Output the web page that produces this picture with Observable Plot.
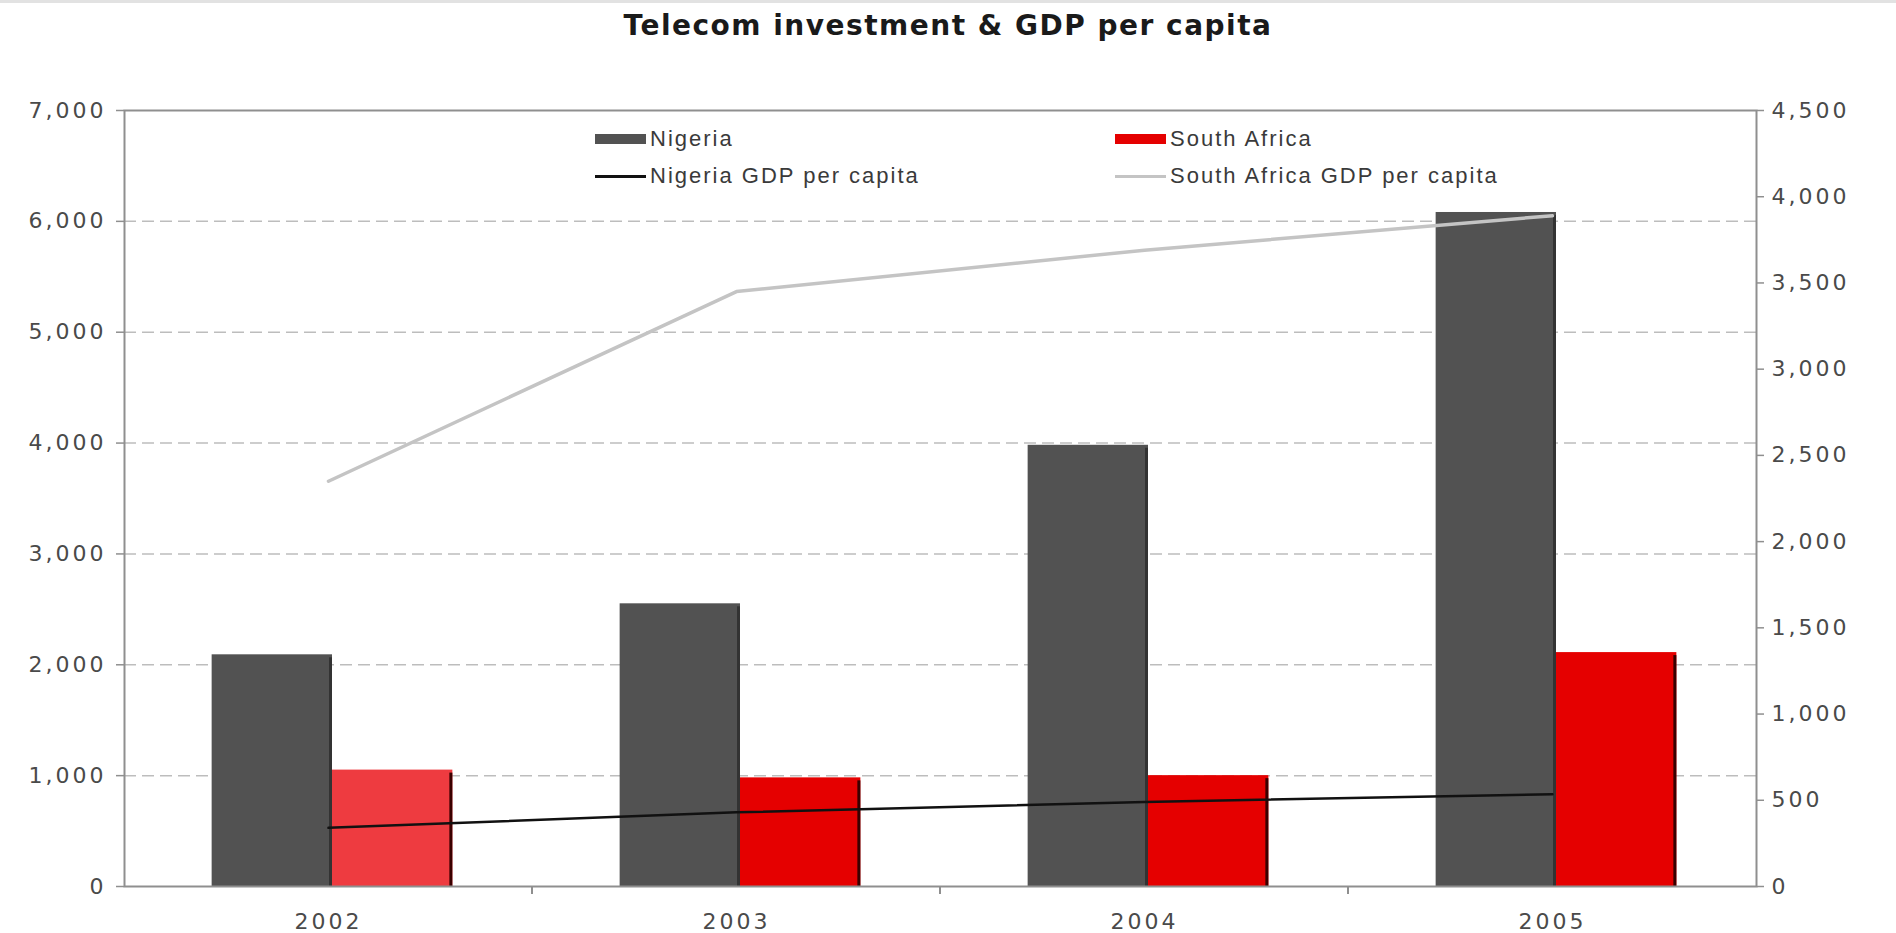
<!DOCTYPE html>
<html><head><meta charset="utf-8">
<script src="https://cdn.jsdelivr.net/npm/d3@7"></script>
<script src="https://cdn.jsdelivr.net/npm/@observablehq/plot@0.6"></script>
<style>
body{margin:0;background:#fff;font-family:"DejaVu Sans",sans-serif;}
#wrap{position:relative;width:1896px;height:933px;overflow:hidden;background:#fff;}
#title{box-sizing:border-box;height:50px;border-top:3px solid #e2e2e2;text-align:center;font-family:"DejaVu Sans";font-weight:bold;font-size:28px;letter-spacing:1.5px;line-height:46px;color:#1a1a1a;}
.leg{position:absolute;height:30px;display:flex;align-items:center;font-family:"Liberation Sans";font-size:22px;letter-spacing:2px;color:#3a3a3a;white-space:nowrap;}
.sw{display:inline-block;width:51px;margin-right:4px;}
#chart svg text{letter-spacing:3px;}
</style></head><body>
<div id="wrap">
<div id="title">Telecom investment &amp; GDP per capita</div>
<div id="chart"></div>
</div>
<script>
const years = ["2002", "2003", "2004", "2005"];
const nigeriaInvestment = [2090, 2550, 3980, 6080];
const southAfricaInvestment = [1050, 980, 1000, 2110];
const nigeriaGdp = [340, 430, 490, 535];
const southAfricaGdp = [2350, 3450, 3690, 3890];
const leftTicks = [0, 1000, 2000, 3000, 4000, 5000, 6000, 7000];
const rightTicks = [0, 500, 1000, 1500, 2000, 2500, 3000, 3500, 4000, 4500];
const seriesNames = ["Nigeria", "South Africa", "Nigeria GDP per capita", "South Africa GDP per capita"];

const leftMax = 7000, rightMax = 4500, k = leftMax / rightMax;
const W = 1896, H = 883, ML = 124, MR = 140, MT = 60, MB = 47;
const bw = (W - ML - MR) / years.length;
const barW = bw * 0.295;
const shift = 4;
const fmt = d3.format(",");

const nig = years.map((year, i) => ({year, value: nigeriaInvestment[i]}));
const sa = years.map((year, i) => ({year, value: southAfricaInvestment[i]}));
const nigG = years.map((year, i) => ({year, value: nigeriaGdp[i]}));
const saG = years.map((year, i) => ({year, value: southAfricaGdp[i]}));

const colNig = "#525252", colSA = "#e50000", colSA02 = "#ee3b40", colNigG = "#111111", colSAG = "#c4c4c4";

const chart = Plot.plot({
  width: W, height: H,
  marginLeft: ML, marginRight: MR, marginTop: MT, marginBottom: MB,
  style: {fontFamily: "DejaVu Sans", background: "#fff"},
  x: {type: "band", domain: years, padding: 0, axis: null, label: null},
  y: {domain: [0, leftMax], axis: null, label: null},
  marks: [
    Plot.ruleY(leftTicks.filter(d => d > 0 && d < leftMax), {stroke: "#bdbdbd", strokeWidth: 1.5, strokeDasharray: "12,6"}),
    Plot.barY(nig, {x: "year", y: "value", fill: colNig, insetLeft: bw / 2 - barW + shift, insetRight: bw / 2 - shift}),
    Plot.barY(nig, {x: "year", y: "value", fill: "#333", insetLeft: bw / 2 - 3 + shift, insetRight: bw / 2 - shift, insetTop: 3}),
    Plot.barY(sa, {x: "year", y: "value", fill: d => d.year === years[0] ? colSA02 : colSA, insetLeft: bw / 2 + shift, insetRight: bw / 2 - barW - shift}),
    Plot.barY(sa, {x: "year", y: "value", fill: "#3a0000", insetLeft: bw / 2 + barW - 3 + shift, insetRight: bw / 2 - barW - shift, insetTop: 3}),
    Plot.line(saG, {x: "year", y: d => d.value * k, stroke: colSAG, strokeWidth: 3.5}),
    Plot.line(nigG, {x: "year", y: d => d.value * k, stroke: colNigG, strokeWidth: 2.5}),
    Plot.frame({stroke: "#8f8f8f", strokeWidth: 2}),
    Plot.barY(years.slice(1), {x: d => d, y1: 0, y2: 0, insetLeft: -1, insetRight: bw - 1, insetBottom: -8, fill: "#8f8f8f"}),
    Plot.axisY(leftTicks, {anchor: "left", label: null, tickSize: 8, tickPadding: 10, tickFormat: fmt, fontSize: 22, fill: "#4a4a4a", stroke: "#8f8f8f", strokeWidth: 1.5}),
    Plot.axisY(rightTicks.map(v => v * k), {anchor: "right", label: null, tickSize: 7, tickPadding: 8, tickFormat: d => fmt(Math.round(d / k)), fontSize: 22, fill: "#4a4a4a", stroke: "#8f8f8f", strokeWidth: 1.5}),
    Plot.axisX(years, {anchor: "bottom", label: null, tickSize: 0, tickPadding: 27, fontSize: 22, fill: "#4a4a4a"})
  ]
});
document.getElementById("chart").appendChild(chart);

// legend (HTML, inside plot area)
const wrap = document.getElementById("wrap");
const legendItems = [
  {name: seriesNames[0], color: colNig, h: 10, left: 595, top: 124},
  {name: seriesNames[1], color: colSA, h: 10, left: 1115, top: 124},
  {name: seriesNames[2], color: colNigG, h: 3, left: 595, top: 161},
  {name: seriesNames[3], color: colSAG, h: 3, left: 1115, top: 161}
];
for (const it of legendItems) {
  const div = document.createElement("div");
  div.className = "leg";
  div.style.left = it.left + "px";
  div.style.top = it.top + "px";
  const sw = document.createElement("span");
  sw.className = "sw";
  sw.style.height = it.h + "px";
  sw.style.background = it.color;
  div.appendChild(sw);
  div.appendChild(document.createTextNode(it.name));
  wrap.appendChild(div);
}
</script>
</body></html>
